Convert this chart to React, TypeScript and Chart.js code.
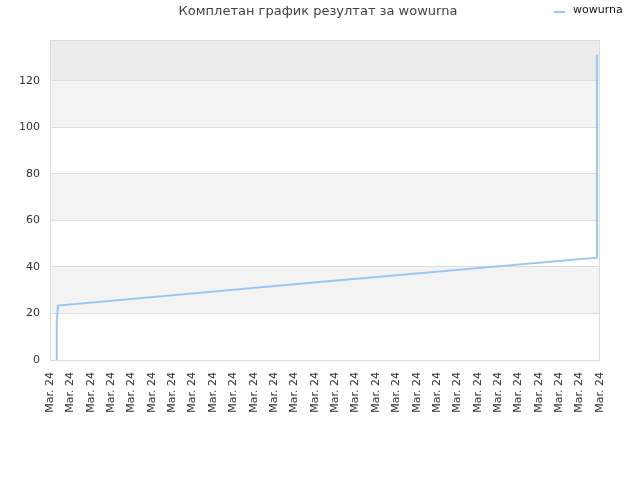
import { useEffect, useRef } from 'react';
import { Chart, registerables } from 'chart.js';

Chart.register(...registerables);

const chartTitle = 'Комплетан график резултат за wowurna';
const seriesName = 'wowurna';

// x axis: one "Mar. 24" label per slot
const tickLabel = 'Mar. 24';
const tickCount = 28;

// points (x in label slots, y in results)
const pointX = [0.33, 0.33, 0.39, 13.5, 26.85, 26.85];
const pointY = [0, 16, 23.4, 33.7, 44.0, 131.2];

const yMax = 137.55;
const yStep = 20;
// background band per 20-step, bottom to top
const bandColors = ['#ffffff', '#f3f3f3', '#ffffff', '#f3f3f3', '#ffffff', '#f3f3f3', '#ececec'];

const lineColor = '#99c7f4';
const gridColor = '#dddddd';

const chromePlugin = {
  id: 'chrome',
  beforeDraw(chart: any) {
    const { ctx, chartArea: a, scales } = chart;
    const y = scales.y;
    ctx.save();
    bandColors.forEach((c, i) => {
      const top = y.getPixelForValue(Math.min((i + 1) * yStep, yMax));
      const bottom = y.getPixelForValue(i * yStep);
      ctx.fillStyle = c;
      ctx.fillRect(a.left, top, a.right - a.left, bottom - top);
    });
    ctx.restore();
  },
  afterDraw(chart: any) {
    const { ctx, chartArea: a } = chart;
    ctx.save();
    ctx.strokeStyle = gridColor;
    ctx.lineWidth = 1;
    ctx.strokeRect(a.left + 0.5, a.top + 0.5, a.right - a.left - 1, a.bottom - a.top);

    // title
    ctx.fillStyle = '#444444';
    ctx.font = '13px "DejaVu Sans"';
    ctx.textAlign = 'center';
    ctx.textBaseline = 'middle';
    ctx.fillText(chartTitle, 318, 12);

    // legend
    ctx.strokeStyle = lineColor;
    ctx.lineWidth = 2;
    ctx.beginPath();
    ctx.moveTo(554, 12);
    ctx.lineTo(565, 12);
    ctx.stroke();
    ctx.fillStyle = '#111111';
    ctx.font = '11px "DejaVu Sans"';
    ctx.textAlign = 'left';
    ctx.fillText(seriesName, 573, 10);
    ctx.restore();
  },
};

export default function App() {
  const canvasRef = useRef<HTMLCanvasElement>(null);

  useEffect(() => {
    if (!canvasRef.current) return;
    const chart = new Chart(canvasRef.current, {
      type: 'line',
      data: {
        datasets: [
          {
            label: seriesName,
            data: pointX.map((x, i) => ({ x, y: pointY[i] })),
            borderColor: lineColor,
            borderWidth: 2,
            pointRadius: 0,
            tension: 0,
            fill: false,
          },
        ],
      },
      options: {
        animation: false,
        responsive: false,
        devicePixelRatio: 1,
        layout: { padding: { top: 40, right: 40, left: 0, bottom: 0 } },
        plugins: {
          legend: { display: false },
          title: { display: false },
          tooltip: { enabled: false },
        },
        scales: {
          x: {
            type: 'linear',
            min: 0,
            max: tickCount - 1,
            grid: { display: false },
            border: { display: false },
            afterFit: (s: any) => {
              s.height = 120;
            },
            ticks: {
              stepSize: 1,
              autoSkip: false,
              minRotation: 90,
              maxRotation: 90,
              padding: 4,
              color: '#333333',
              font: { family: 'DejaVu Sans', size: 11 },
              callback: () => tickLabel,
            },
          },
          y: {
            min: 0,
            max: yMax,
            grid: { color: gridColor, drawTicks: false },
            border: { display: false },
            afterFit: (s: any) => {
              s.width = 50;
            },
            afterBuildTicks: (s: any) => {
              s.ticks = s.ticks.filter((t: any) => t.value % yStep === 0);
            },
            ticks: {
              stepSize: yStep,
              padding: 10,
              color: '#333333',
              font: { family: 'DejaVu Sans', size: 11 },
            },
          },
        },
      },
      plugins: [chromePlugin],
    });
    return () => chart.destroy();
  }, []);

  return (
    <div style={{ position: 'absolute', left: 0, top: 0, width: 640, height: 480, background: '#fff' }}>
      <canvas ref={canvasRef} width={640} height={480} />
    </div>
  );
}
